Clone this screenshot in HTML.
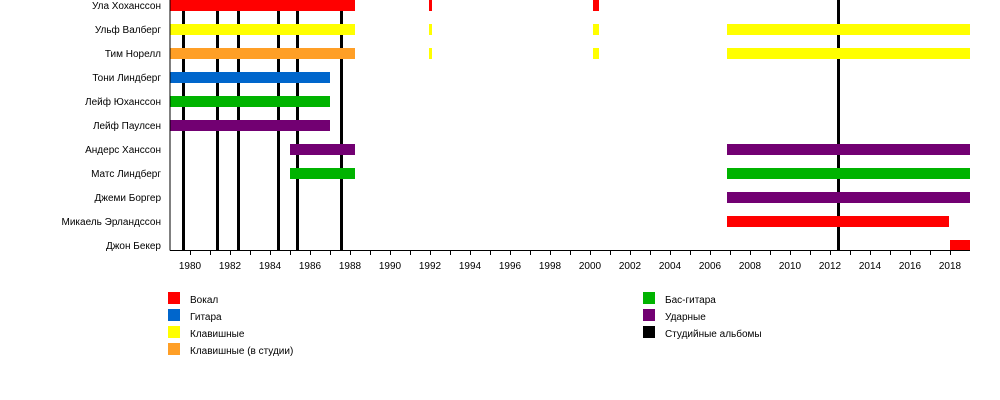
<!DOCTYPE html>
<html><head><meta charset="utf-8"><style>body{margin:0;background:#fff}svg{display:block}text{font-family:"Liberation Sans",sans-serif;font-size:10px;fill:#000}</style></head><body>
<svg width="1000" height="400" xmlns="http://www.w3.org/2000/svg">
<g text-anchor="end">
<text x="161" y="9">Ула Хоханссон</text>
<text x="161" y="33">Ульф Валберг</text>
<text x="161" y="57">Тим Норелл</text>
<text x="161" y="81">Тони Линдберг</text>
<text x="161" y="105">Лейф Юханссон</text>
<text x="161" y="129">Лейф Паулсен</text>
<text x="161" y="153">Андерс Ханссон</text>
<text x="161" y="177">Матс Линдберг</text>
<text x="161" y="201">Джеми Боргер</text>
<text x="161" y="225">Микаель Эрландссон</text>
<text x="161" y="249">Джон Бекер</text>
</g>
<!-- album lines -->
<g stroke="#000" stroke-width="3">
<line x1="183.5" y1="0" x2="183.5" y2="250"/>
<line x1="217.5" y1="0" x2="217.5" y2="250"/>
<line x1="238.5" y1="0" x2="238.5" y2="250"/>
<line x1="278.5" y1="0" x2="278.5" y2="250"/>
<line x1="297.5" y1="0" x2="297.5" y2="250"/>
<line x1="341.5" y1="0" x2="341.5" y2="250"/>
<line x1="838.5" y1="0" x2="838.5" y2="250"/>
</g>
<!-- bars -->
<rect x="170" y="0" width="185" height="11" fill="#ff0000"/>
<rect x="429" y="0" width="3" height="11" fill="#ff0000"/>
<rect x="593" y="0" width="6" height="11" fill="#ff0000"/>
<rect x="170" y="24" width="185" height="11" fill="#ffff00"/>
<rect x="429" y="24" width="3" height="11" fill="#ffff00"/>
<rect x="593" y="24" width="6" height="11" fill="#ffff00"/>
<rect x="727" y="24" width="243" height="11" fill="#ffff00"/>
<rect x="170" y="48" width="185" height="11" fill="#ff9f26"/>
<rect x="429" y="48" width="3" height="11" fill="#ffff00"/>
<rect x="593" y="48" width="6" height="11" fill="#ffff00"/>
<rect x="727" y="48" width="243" height="11" fill="#ffff00"/>
<rect x="170" y="72" width="160" height="11" fill="#0066cc"/>
<rect x="170" y="96" width="160" height="11" fill="#00b300"/>
<rect x="170" y="120" width="160" height="11" fill="#720072"/>
<rect x="290" y="144" width="65" height="11" fill="#720072"/>
<rect x="727" y="144" width="243" height="11" fill="#720072"/>
<rect x="290" y="168" width="65" height="11" fill="#00b300"/>
<rect x="727" y="168" width="243" height="11" fill="#00b300"/>
<rect x="727" y="192" width="243" height="11" fill="#720072"/>
<rect x="727" y="216" width="222" height="11" fill="#ff0000"/>
<rect x="950" y="240" width="20" height="11" fill="#ff0000"/>
<!-- axis -->
<line x1="170" y1="0" x2="170" y2="250.5" stroke="#000"/>
<line x1="170" y1="250.5" x2="970" y2="250.5" stroke="#000"/>
<g stroke="#000">
<path d="M190.5 250v5M230.5 250v5M270.5 250v5M310.5 250v5M350.5 250v5M390.5 250v5M430.5 250v5M470.5 250v5M510.5 250v5M550.5 250v5M590.5 250v5M630.5 250v5M670.5 250v5M710.5 250v5M750.5 250v5M790.5 250v5M830.5 250v5M870.5 250v5M910.5 250v5M950.5 250v5"/>
<path d="M210.5 250v5M250.5 250v5M290.5 250v5M330.5 250v5M370.5 250v5M410.5 250v5M450.5 250v5M490.5 250v5M530.5 250v5M570.5 250v5M610.5 250v5M650.5 250v5M690.5 250v5M730.5 250v5M770.5 250v5M810.5 250v5M850.5 250v5M890.5 250v5M930.5 250v5"/>
</g>
<g text-anchor="middle">
<text x="190" y="269">1980</text><text x="230" y="269">1982</text><text x="270" y="269">1984</text><text x="310" y="269">1986</text><text x="350" y="269">1988</text><text x="390" y="269">1990</text><text x="430" y="269">1992</text><text x="470" y="269">1994</text><text x="510" y="269">1996</text><text x="550" y="269">1998</text><text x="590" y="269">2000</text><text x="630" y="269">2002</text><text x="670" y="269">2004</text><text x="710" y="269">2006</text><text x="750" y="269">2008</text><text x="790" y="269">2010</text><text x="830" y="269">2012</text><text x="870" y="269">2014</text><text x="910" y="269">2016</text><text x="950" y="269">2018</text>
</g>
<!-- legend -->
<rect x="168" y="292" width="12" height="12" fill="#ff0000"/><text x="190" y="303">Вокал</text>
<rect x="168" y="309" width="12" height="12" fill="#0066cc"/><text x="190" y="320">Гитара</text>
<rect x="168" y="326" width="12" height="12" fill="#ffff00"/><text x="190" y="337">Клавишные</text>
<rect x="168" y="343" width="12" height="12" fill="#ff9f26"/><text x="190" y="354">Клавишные (в студии)</text>
<rect x="643" y="292" width="12" height="12" fill="#00b300"/><text x="665" y="303">Бас-гитара</text>
<rect x="643" y="309" width="12" height="12" fill="#720072"/><text x="665" y="320">Ударные</text>
<rect x="643" y="326" width="12" height="12" fill="#000"/><text x="665" y="337">Студийные альбомы</text>
</svg>
</body></html>
